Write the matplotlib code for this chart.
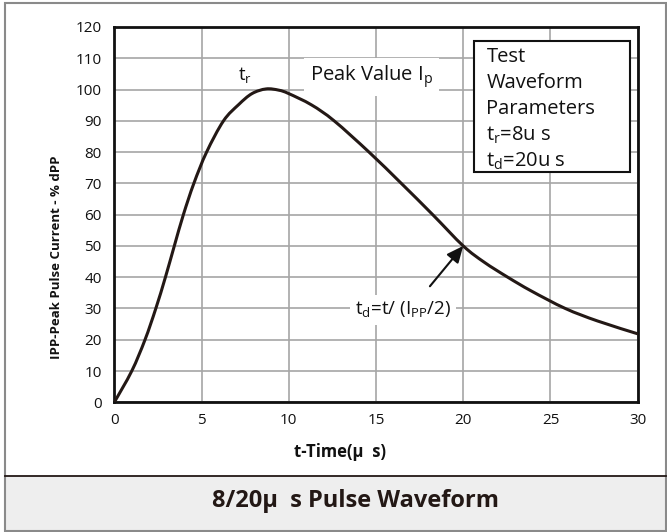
import matplotlib
matplotlib.use("Agg")
import matplotlib.pyplot as plt
from matplotlib.patches import Rectangle, PathPatch
from matplotlib.path import Path

plt.rcParams['font.family'] = ['Open Sans', 'DejaVu Sans']
plt.rcParams['mathtext.fontset'] = 'custom'
plt.rcParams['mathtext.rm'] = 'Open Sans'

# data
time_us = [0, 1.0, 1.76, 2.38, 2.93, 3.44, 3.96, 4.56, 5.29, 6.26, 7.13, 7.89,
           8.7, 9.43, 10.0, 11.3, 12.6, 14.6, 16.45, 18.25, 20.0,
           21.2, 22.55, 23.9, 25.85, 27.7, 30.0]
current_pct = [0, 10, 20, 30, 40, 50, 60, 70, 80, 90, 95.2, 98.7,
               100.2, 99.8, 98.7, 95.1, 90, 80, 70, 60, 50,
               44.8, 40, 35.6, 30, 26.0, 21.9]
x_ticks = [0, 5, 10, 15, 20, 25, 30]
y_ticks = [0, 10, 20, 30, 40, 50, 60, 70, 80, 90, 100, 110, 120]
legend_lines = ["Test", "Waveform", "Parameters",
                r"t$_\mathregular{r}$=8u s", r"t$_\mathregular{d}$=20u s"]

W, H = 667, 532
fig = plt.figure(figsize=(W / 100, H / 100), dpi=100)
ax = fig.add_axes([114.3 / W, 1 - 402.3 / H, (637.7 - 114.3) / W, (402.3 - 27) / H])

ax.set_xlim(0, 30)
ax.set_ylim(0, 120)
ax.set_xticks(x_ticks)
ax.set_yticks(y_ticks)
ax.tick_params(length=0, labelsize=11, colors='#111111')
ax.tick_params(axis='x', pad=8)
ax.tick_params(axis='y', pad=9)
ax.grid(True, color='#a6a6a6', linewidth=1.2)
ax.set_axisbelow(True)
for s in ax.spines.values():
    s.set_linewidth(2.0)
    s.set_color('#111111')

# smoothed line through the read points (Catmull-Rom as cubic Bezier segments)
verts = [(time_us[0], current_pct[0])]
codes = [Path.MOVETO]
n = len(time_us)
for i in range(n - 1):
    p0 = (time_us[max(i - 1, 0)], current_pct[max(i - 1, 0)])
    p1 = (time_us[i], current_pct[i])
    p2 = (time_us[i + 1], current_pct[i + 1])
    p3 = (time_us[min(i + 2, n - 1)], current_pct[min(i + 2, n - 1)])
    c1 = (p1[0] + (p2[0] - p0[0]) / 6, p1[1] + (p2[1] - p0[1]) / 6)
    c2 = (p2[0] - (p3[0] - p1[0]) / 6, p2[1] - (p3[1] - p1[1]) / 6)
    verts += [c1, c2, p2]
    codes += [Path.CURVE4] * 3
ax.add_patch(PathPatch(Path(verts, codes), facecolor='none', edgecolor='#231815',
                       linewidth=2.2, zorder=5, capstyle='round'))

# annotations
ax.text(7.49, 102.7, r"t$_\mathregular{r}$", fontsize=13.5, ha='center', va='baseline',
        color='#111111')
ax.text(11.2, 102.7, r"Peak Value I$_\mathregular{p}$", fontsize=14.5, ha='left',
        va='baseline', color='#111111',
        bbox=dict(boxstyle='square,pad=0.3', facecolor='white', edgecolor='none'),
        zorder=4)
ax.text(13.8, 27.9, r"t$_\mathregular{d}$=t/ (I$_\mathregular{PP}$/2)", fontsize=13.5,
        ha='left', va='baseline', color='#111111',
        bbox=dict(boxstyle='square,pad=0.25', facecolor='white', edgecolor='none'),
        zorder=4)
ax.annotate("", xy=(20.0, 50.0), xytext=(18.09, 37.1),
            arrowprops=dict(arrowstyle='-|>,head_length=1.0,head_width=0.45',
                            color='#111111', lw=1.5, shrinkA=0, shrinkB=0),
            zorder=6)

# parameter box
ax.add_patch(Rectangle((0.687, 0.6145), 0.985 - 0.687, 0.962 - 0.6145,
                       transform=ax.transAxes, facecolor='white',
                       edgecolor='#111111', linewidth=1.5, zorder=4))
for txt, yy in zip(legend_lines, [0.907, 0.838, 0.769, 0.698, 0.629]):
    ax.text(0.711, yy, txt, transform=ax.transAxes, fontsize=14.5,
            ha='left', va='baseline', color='#111111', zorder=5)

# axis labels
fig.text(340 / W, 1 - 452 / H, "t-Time(μ  s)", fontsize=12, fontweight='bold',
         ha='center', va='center', color='#111111')
fig.text(57 / W, 1 - 257 / H, "IPP-Peak Pulse Current - % dPP", fontsize=9.5,
         fontweight='bold', rotation=90, ha='center', va='center', color='#111111')

# bottom band and outer frame
fig.patches.append(Rectangle((5 / W, 1 / H), (665.5 - 5) / W, (531 - 476) / H,
                             transform=fig.transFigure, facecolor='#eeeeee',
                             edgecolor='none', zorder=0))
fig.add_artist(plt.Line2D([5 / W, 665.5 / W], [1 - 476 / H, 1 - 476 / H],
                          transform=fig.transFigure, color='#231815', linewidth=1.3))
fig.patches.append(Rectangle((5 / W, 1 / H), (665.5 - 5) / W, (530 - 1.5) / H,
                             transform=fig.transFigure, facecolor='none',
                             edgecolor='#8a8a8a', linewidth=1.5, zorder=1))
fig.text(355 / W, 1 - 500.7 / H, "8/20μ  s Pulse Waveform", fontsize=17,
         fontweight='bold', ha='center', va='center', color='#231815')

fig.savefig("out.png", dpi=100)
